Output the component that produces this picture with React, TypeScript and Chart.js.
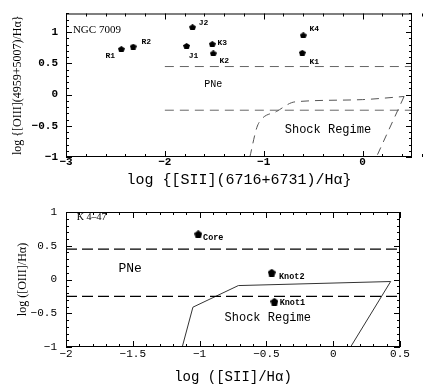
import React, { useEffect, useRef } from "react";
import { Chart, registerables } from "chart.js";

Chart.register(...registerables);

// ---------- Top panel: NGC 7009 ----------
const ngcLabels = ["R1", "R2", "J1", "J2", "K3", "K2", "K4", "K1"];
const ngcX = [-2.44, -2.32, -1.78, -1.72, -1.52, -1.51, -0.6, -0.61];
const ngcY = [0.73, 0.77, 0.78, 1.08, 0.81, 0.66, 0.95, 0.67];
const ngcPneX = [-2, 0.5];
const ngcPneUpper = 0.45;
const ngcPneLower = -0.25;
const ngcShockCurveX = [-1.14, -1.07, -1.02, -0.87, -0.72, -0.64, 0.0, 0.42];
const ngcShockCurveY = [-1.0, -0.53, -0.39, -0.27, -0.13, -0.11, -0.08, -0.03];
const ngcShockEdgeX = [0.42, 0.14];
const ngcShockEdgeY = [-0.03, -1.0];
const ngcXTicks = [-3, -2, -1, 0];
const ngcYTicks = [-1, -0.5, 0, 0.5, 1];

// ---------- Bottom panel: K 4-47 ----------
const k4Labels = ["Core", "Knot2", "Knot1"];
const k4X = [-1.01, -0.46, -0.44];
const k4Y = [0.67, 0.1, -0.33];
const k4PneX = [-2, 0.5];
const k4PneUpper = 0.45;
const k4PneLower = -0.25;
const k4ShockX = [-1.13, -1.05, -0.71, 0.43, 0.13];
const k4ShockY = [-1.0, -0.41, -0.09, -0.03, -1.0];
const k4XTicks = [-2, -1.5, -1, -0.5, 0, 0.5];
const k4YTicks = [-1, -0.5, 0, 0.5, 1];

// label offsets (px) for the point names
const ngcLabelOffsets = [
  [-11, 7], [13, -5], [7, 10], [11, -4], [10, -1.5], [11, 8], [11, -6], [12, 9],
];
const k4LabelOffsets = [[15, 4], [20, 4], [18, 1]];

const fmt = (v: any) => String(v).replace("-", "\u2212");

function makePentagon(w: number, h: number) {
  const c = document.createElement("canvas");
  c.width = w;
  c.height = h;
  const ctx = c.getContext("2d")!;
  ctx.fillStyle = "#000";
  ctx.beginPath();
  const pts: [number, number][] = [];
  for (let i = 0; i < 5; i++) {
    const a = -Math.PI / 2 + (i * 2 * Math.PI) / 5;
    pts.push([Math.cos(a), Math.sin(a)]);
  }
  const minX = -Math.sin((72 * Math.PI) / 180);
  const maxX = -minX;
  const minY = -1;
  const maxY = Math.cos((36 * Math.PI) / 180);
  pts.forEach(([px, py], i) => {
    const x = ((px - minX) / (maxX - minX)) * w;
    const y = ((py - minY) / (maxY - minY)) * h;
    if (i === 0) ctx.moveTo(x, y);
    else ctx.lineTo(x, y);
  });
  ctx.closePath();
  ctx.fill();
  return c;
}

const framePlugin = {
  id: "frameTicks",
  afterDraw(chart: any, _args: any, opts: any) {
    const { ctx, chartArea: a, scales } = chart;
    const xs = scales.x;
    const ys = scales.y;
    ctx.save();
    ctx.strokeStyle = "#000";
    ctx.lineWidth = opts.frameWidth || 1;
    ctx.strokeRect(a.left + 0.5, a.top + 0.5, a.right - a.left - 1, a.bottom - a.top - 1);
    ctx.lineWidth = 1;
    const drawTicks = (scale: any, minor: number, major: number, horiz: boolean) => {
      const n = Math.round((scale.max - scale.min) / minor);
      for (let i = 0; i <= n; i++) {
        const v = scale.min + i * minor;
        const isMajor = Math.abs(v / major - Math.round(v / major)) < 1e-4;
        const len = isMajor ? opts.majorLen : opts.minorLen;
        const p = Math.round(scale.getPixelForValue(v)) + 0.5;
        ctx.beginPath();
        if (horiz) {
          ctx.moveTo(p, a.bottom);
          ctx.lineTo(p, a.bottom - len);
          ctx.moveTo(p, a.top);
          ctx.lineTo(p, a.top + len);
        } else {
          ctx.moveTo(a.left, p);
          ctx.lineTo(a.left + len, p);
          ctx.moveTo(a.right, p);
          ctx.lineTo(a.right - len, p);
        }
        ctx.stroke();
      }
    };
    drawTicks(xs, opts.xMinor, opts.xMajor, true);
    drawTicks(ys, opts.yMinor, opts.yMajor, false);
    ctx.restore();
  },
};

const textPlugin = {
  id: "annotTexts",
  afterDatasetsDraw(chart: any, _args: any, opts: any) {
    const { ctx, scales } = chart;
    ctx.save();
    ctx.fillStyle = "#000";
    ctx.textBaseline = "middle";
    (opts.items || []).forEach((t: any) => {
      ctx.font = t.font;
      ctx.textAlign = t.align || "center";
      const x = scales.x.getPixelForValue(t.x) + (t.dx || 0);
      const y = scales.y.getPixelForValue(t.y) + (t.dy || 0);
      ctx.fillText(t.text, x, y);
    });
    ctx.restore();
  },
};

function axisCommon(ticksArr: number[], tickFont: any, padding: number) {
  return {
    type: "linear",
    afterBuildTicks: (s: any) => {
      s.ticks = ticksArr.map((v) => ({ value: v }));
    },
    grid: { display: false, drawTicks: false, tickLength: 0 },
    border: { display: false },
    ticks: {
      color: "#000",
      font: tickFont,
      padding,
      maxRotation: 0,
      autoSkip: false,
      callback: fmt,
    },
  };
}

function lineSet(xs: number[], ys: number[], extra: any) {
  return {
    data: xs.map((x, i) => ({ x, y: ys[i] })),
    showLine: true,
    pointRadius: 0,
    ...extra,
  };
}

function buildTop(pent: HTMLCanvasElement) {
  const tickFont = { family: "Liberation Mono", size: 11, weight: "bold", lineHeight: 1 };
  const items: any[] = ngcLabels.map((l, i) => ({
    text: l,
    x: ngcX[i],
    y: ngcY[i],
    dx: ngcLabelOffsets[i][0],
    dy: ngcLabelOffsets[i][1],
    font: "bold 8px Liberation Mono",
  }));
  items.push({ text: "NGC 7009", x: -2.93, y: 1.03, align: "left", font: "11px Liberation Serif" });
  items.push({ text: "PNe", x: -1.51, y: 0.16, font: "10px Liberation Mono" });
  items.push({ text: "Shock Regime", x: -0.35, y: -0.56, font: "12px Liberation Mono" });
  const dashGrey = { borderColor: "#666", borderWidth: 1, borderDash: [9, 6] };
  return {
    type: "scatter",
    data: {
      datasets: [
        {
          data: ngcX.map((x, i) => ({ x, y: ngcY[i] })),
          pointStyle: pent,
          pointRadius: 4,
          showLine: false,
        },
        lineSet(ngcPneX, ngcPneX.map(() => ngcPneUpper), dashGrey),
        lineSet(ngcPneX, ngcPneX.map(() => ngcPneLower), dashGrey),
        lineSet(ngcShockCurveX, ngcShockCurveY, {
          borderColor: "#555",
          borderWidth: 1,
          borderDash: [8, 6],
          cubicInterpolationMode: "monotone",
        }),
        lineSet(ngcShockEdgeX, ngcShockEdgeY, {
          borderColor: "#555",
          borderWidth: 1,
          borderDash: [8, 6],
        }),
      ],
    },
    options: {
      animation: false,
      responsive: false,
      devicePixelRatio: 1,
      events: [],
      layout: { padding: { left: 0, right: 11, top: 10, bottom: 0 } },
      plugins: {
        legend: { display: false },
        tooltip: { enabled: false },
        frameTicks: { xMinor: 0.2, xMajor: 1, yMinor: 0.1, yMajor: 0.5, majorLen: 6, minorLen: 3 },
        annotTexts: { items },
      },
      scales: {
        x: {
          ...axisCommon(ngcXTicks, tickFont, 0),
          min: -3,
          max: 0.5,
          afterFit: (s: any) => {
            s.height = 33;
          },
          title: {
            display: true,
            text: "log {[SII](6716+6731)/H\u03b1}",
            color: "#000",
            font: { family: "Liberation Mono", size: 15, lineHeight: 1.2 },
            padding: { top: 0, bottom: 1 },
          },
        },
        y: {
          ...axisCommon(ngcYTicks, tickFont, 8),
          min: -1,
          max: 1.3,
          afterFit: (s: any) => {
            s.width = 66;
          },
          title: {
            display: true,
            text: "log {[OIII](4959+5007)/H\u03b1}",
            color: "#000",
            font: { family: "Liberation Serif", size: 12, lineHeight: 1.2 },
            padding: { top: 11, bottom: 0 },
          },
        },
      },
    },
    plugins: [framePlugin, textPlugin],
  };
}

function buildBottom(pent: HTMLCanvasElement) {
  const tickFont = { family: "Liberation Mono", size: 11, lineHeight: 1 };
  const items: any[] = k4Labels.map((l, i) => ({
    text: l,
    x: k4X[i],
    y: k4Y[i],
    dx: k4LabelOffsets[i][0],
    dy: k4LabelOffsets[i][1],
    font: "bold 8.5px Liberation Mono",
  }));
  items.push({ text: "K 4\u201347", x: -1.92, y: 0.92, align: "left", font: "10px Liberation Serif" });
  items.push({ text: "PNe", x: -1.52, y: 0.16, font: "13px Liberation Mono" });
  items.push({ text: "Shock Regime", x: -0.49, y: -0.57, font: "12px Liberation Mono" });
  const dashBlack = { borderColor: "#000", borderWidth: 1.4, borderDash: [11, 5] };
  return {
    type: "scatter",
    data: {
      datasets: [
        {
          data: k4X.map((x, i) => ({ x, y: k4Y[i] })),
          pointStyle: pent,
          pointRadius: 4,
          showLine: false,
        },
        lineSet(k4PneX, k4PneX.map(() => k4PneUpper), dashBlack),
        lineSet(k4PneX, k4PneX.map(() => k4PneLower), dashBlack),
        lineSet(k4ShockX, k4ShockY, { borderColor: "#333", borderWidth: 1 }),
      ],
    },
    options: {
      animation: false,
      responsive: false,
      devicePixelRatio: 1,
      events: [],
      layout: { padding: { left: 0, right: 23, top: 22, bottom: 0 } },
      plugins: {
        legend: { display: false },
        tooltip: { enabled: false },
        frameTicks: { xMinor: 0.1, xMajor: 0.5, yMinor: 0.1, yMajor: 0.5, majorLen: 6, minorLen: 3, frameWidth: 1 },
        annotTexts: { items },
      },
      scales: {
        x: {
          ...axisCommon(k4XTicks, tickFont, 2),
          min: -2,
          max: 0.5,
          afterFit: (s: any) => {
            s.height = 41;
          },
          title: {
            display: true,
            text: "log ([SII]/H\u03b1)",
            color: "#000",
            font: { family: "Liberation Mono", size: 14, lineHeight: 1.2 },
            padding: { top: 0, bottom: 2 },
          },
        },
        y: {
          ...axisCommon(k4YTicks, tickFont, 9),
          min: -1,
          max: 1,
          afterFit: (s: any) => {
            s.width = 66;
          },
          title: {
            display: true,
            text: "log ([OIII]/H\u03b1)",
            color: "#000",
            font: { family: "Liberation Serif", size: 12, lineHeight: 1.2 },
            padding: { top: 16, bottom: 0 },
          },
        },
      },
    },
    plugins: [framePlugin, textPlugin],
  };
}

export default function App() {
  const topRef = useRef<HTMLCanvasElement>(null);
  const botRef = useRef<HTMLCanvasElement>(null);

  useEffect(() => {
    const pentTop = makePentagon(7, 6);
    const pentBot = makePentagon(8, 8);
    const c1 = new Chart(topRef.current!, buildTop(pentTop) as any);
    const c2 = new Chart(botRef.current!, buildBottom(pentBot) as any);
    return () => {
      c1.destroy();
      c2.destroy();
    };
  }, []);

  return (
    <div style={{ position: "absolute", left: 0, top: 0, width: 423, height: 388, background: "#fff" }}>
      <canvas ref={topRef} width={423} height={190} style={{ display: "block", width: 423, height: 190 }} />
      <canvas ref={botRef} width={423} height={198} style={{ display: "block", width: 423, height: 198 }} />
    </div>
  );
}
